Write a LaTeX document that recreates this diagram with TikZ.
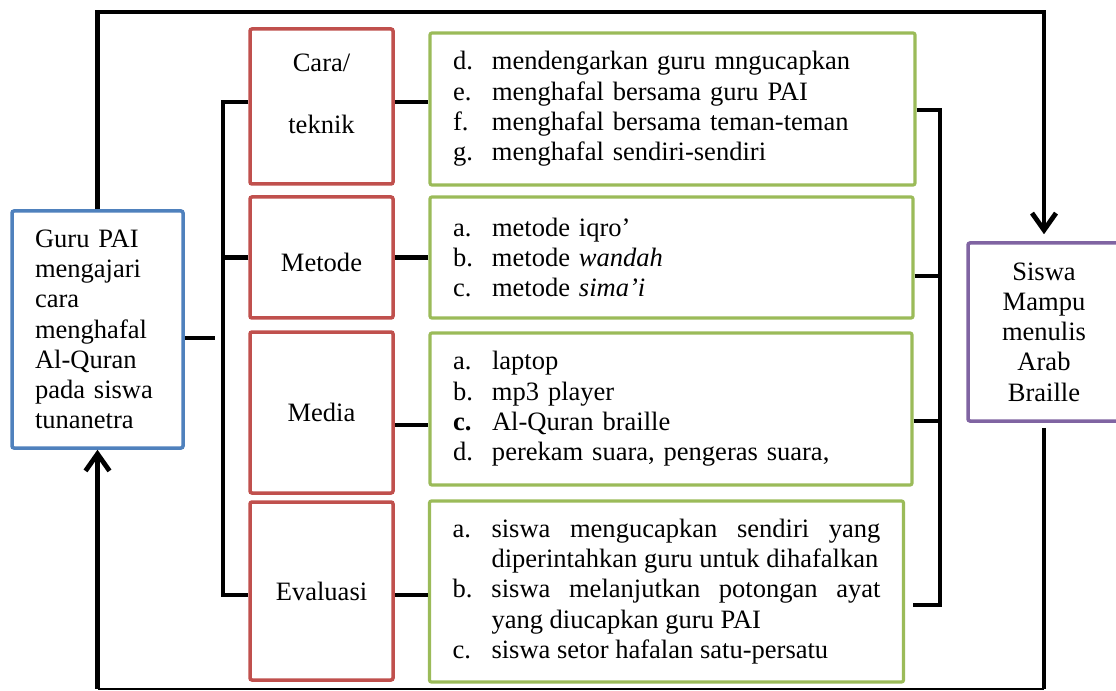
\documentclass[tikz,border=0pt]{standalone}
\usepackage{fontspec}
\setmainfont{Liberation Serif}
\usetikzlibrary{arrows.meta,calc}

% one drawing unit
\newdimen\pu \pu=0.75pt

\definecolor{boxblue}{HTML}{4F81BD}
\definecolor{boxred}{HTML}{C0504D}
\definecolor{boxgreen}{HTML}{9BBB59}
\definecolor{boxpurple}{HTML}{8064A2}

% list item with a hanging label
\newcommand\itm[2]{\makebox[39\pu][l]{#1}#2}
\newcommand\hitm[2]{\hangindent=39\pu\hangafter=1\noindent\makebox[39\pu][l]{#1}#2\par}

\begin{document}
\begin{tikzpicture}[x=0.75pt,y=-0.75pt,
  every node/.style={font=\fontsize{19.9pt}{22.7pt}\selectfont, inner sep=0pt},
  box/.style={draw, line width=3.5\pu, rounded corners=2\pu, fill=white},
  guru/.style={box, draw=boxblue, minimum width=171\pu, text width=125\pu, align=left},
  redbox/.style={box, draw=boxred, minimum width=143\pu, align=center},
  listbox/.style={box, draw=boxgreen, line width=3.2\pu, inner xsep=23\pu},
  goal/.style={box, draw=boxpurple, minimum width=152\pu, minimum height=178\pu, align=center},
  conn/.style={draw=black, line width=4.8\pu},
  thinline/.style={draw=black, line width=1.6\pu},
  barb/.style={-{Straight Barb[length=12.75pt,width=18pt]}}
]
\useasboundingbox (0,0) rectangle (1116,691);

% main boxes
\node[guru, minimum height=237\pu] (guru) at (97.5,329.5)
  {Guru PAI\\mengajari\\cara\\menghafal\\Al-Quran\\pada siswa\\tunanetra};
\node[goal] (siswa) at (1044,332) {Siswa\\Mampu\\menulis\\Arab\\Braille};

% aspects
\node[redbox, minimum height=155\pu] (cara) at (321.5,106.5)
  {Cara/\\[32\pu]teknik\rule[-25\pu]{0pt}{0pt}};
\node[redbox, minimum height=121\pu] (metode) at (321.5,257.5) {\rule{0pt}{28\pu}Metode};
\node[redbox, minimum height=161\pu] (media) at (321.5,412.5) {Media};
\node[redbox, minimum height=178\pu] (eval) at (321.5,591) {Evaluasi};

% details of each aspect
\node[listbox, minimum height=152\pu, text width=439\pu, align=left] (g1) at (672.5,109)
  {\itm{d.}{mendengarkan guru mngucapkan}\\
   \itm{e.}{menghafal bersama guru PAI}\\
   \itm{f.}{menghafal bersama teman-teman}\\
   \itm{g.}{menghafal sendiri-sendiri}};
\node[listbox, minimum height=121\pu, text width=437\pu, align=left] (g2) at (671.5,257.5)
  {\itm{a.}{metode iqro’}\\
   \itm{b.}{metode \textit{wandah}}\\
   \itm{c.}{metode \textit{sima’i}}};
\node[listbox, minimum height=152\pu, text width=436\pu, align=left] (g3) at (671,409)
  {\itm{a.}{laptop}\\
   \itm{b.}{mp3 player}\\
   \itm{\textbf{c.}}{Al-Quran braille}\\
   \itm{d.}{perekam suara, pengeras suara,}};
\node[listbox, minimum height=181\pu, text width=428\pu, align=justify] (g4) at (666.5,591.5)
  {\hfuzz=20pt
   \hitm{a.}{siswa mengucapkan sendiri yang\linebreak diperintahkan guru untuk dihafalkan}
   \hitm{b.}{siswa melanjutkan potongan ayat\linebreak yang diucapkan guru PAI}
   \hitm{c.}{siswa setor hafalan satu-persatu}};

% connector points
\coordinate (topy) at (0,12);
\coordinate (boty) at (0,689);
\coordinate (gstub) at (215,338);
\coordinate (lbt) at (223,102);
\coordinate (lbb) at (223,595);
\coordinate (rbt) at (940,110);
\coordinate (rbb) at (940,605);
\coordinate (r2) at (940,276);
\coordinate (r3) at (940,421);
\coordinate (m3) at (0,425);

% loop from teacher to outcome and back
\draw[conn, barb, shorten >=5.25pt] (guru.north) -- (guru.north |- topy) -| (siswa.north);
\draw[conn, shorten <=3.75pt] (siswa.south) -- (siswa.south |- boty);
\draw[thinline] (siswa.south |- boty) -- (guru.south |- boty);
\draw[conn, barb] (guru.south |- boty) -- (guru.south);

% left bracket
\draw[conn] (guru.east |- gstub) -- (gstub);
\draw[conn] (cara.west |- lbt) -- (lbt) -- (lbb) -- (eval.west |- lbb);
\draw[conn] (metode.west) -- (metode.west -| lbt);

% aspects to their details
\draw[conn] (cara.east |- lbt) -- (g1.west |- lbt);
\draw[conn] (metode.east) -- (g2.west);
\draw[conn] (media.east |- m3) -- (g3.west |- m3);
\draw[conn] (eval.east |- lbb) -- (g4.west |- lbb);

% right bracket
\draw[conn] (g1.east |- rbt) -- (rbt) -- (rbb) -- ($(g4.east |- rbb)+(8,0)$);
\draw[conn] (g2.east |- r2) -- (r2);
\draw[conn] (g3.east |- r3) -- (r3);
\end{tikzpicture}
\end{document}
